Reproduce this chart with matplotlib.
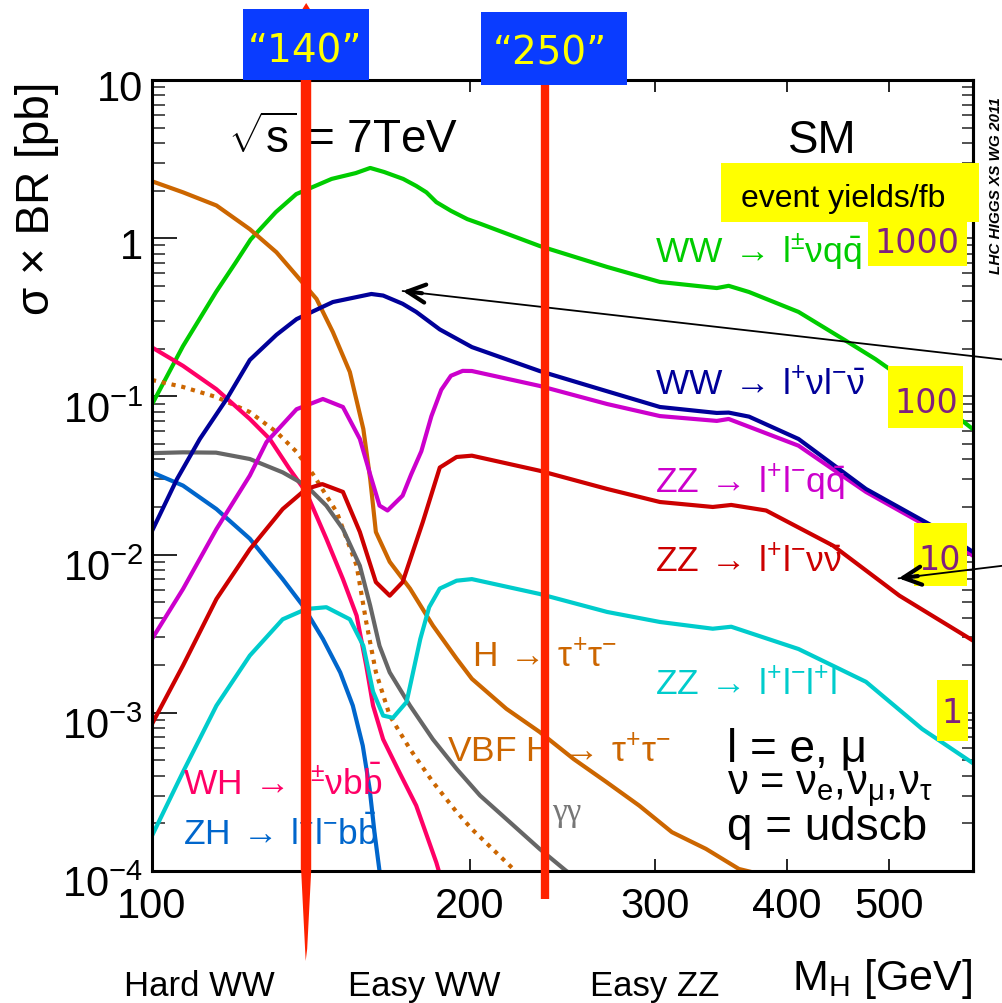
import numpy as np
import matplotlib
matplotlib.use('Agg')
import matplotlib.pyplot as plt
from matplotlib import transforms
from matplotlib.patches import Rectangle, Polygon
from matplotlib.ticker import FixedLocator, FixedFormatter, NullLocator, LogLocator, NullFormatter

plt.rcParams['font.family'] = ['Liberation Sans', 'DejaVu Sans']
plt.rcParams['mathtext.fontset'] = 'custom'
plt.rcParams['mathtext.rm'] = 'Liberation Sans'
plt.rcParams['mathtext.it'] = 'Liberation Sans:italic'
plt.rcParams['mathtext.bf'] = 'Liberation Sans:bold'
plt.rcParams['mathtext.sf'] = 'Liberation Sans'

# ---------------- data (M_H in GeV, sigma x BR in pb) ----------------
ww_lvqq_m = [100, 107, 115, 120, 124, 131, 137, 148, 156, 161, 166, 173, 178, 182, 186, 192, 199, 205,
             233, 270, 303, 343, 352, 368, 410, 455, 485, 500, 550, 600]
ww_lvqq_s = [0.089, 0.208, 0.457, 0.70, 0.98, 1.46, 1.90, 2.37, 2.58, 2.78, 2.62, 2.37, 2.14, 1.95, 1.69,
             1.49, 1.32, 1.23, 0.893, 0.658, 0.529, 0.484, 0.50, 0.457, 0.342, 0.224, 0.172, 0.149,
             0.098, 0.062]

ww_lvlv_m = [100, 105.6, 111, 117.7, 123.8, 131.2, 137.1, 148.4, 161.4, 165.6, 172.8, 178, 187.4,
             201, 233, 266, 303, 343, 352, 368, 410, 475, 549, 600]
ww_lvlv_s = [0.0141, 0.030, 0.0538, 0.0963, 0.170, 0.245, 0.308, 0.395, 0.444, 0.434, 0.385, 0.342,
             0.265, 0.205, 0.1447, 0.111, 0.0857, 0.0786, 0.079, 0.0745, 0.0538, 0.026, 0.0152, 0.0104]

zz_llqq_m = [100, 107, 115.1, 123.8, 128.4, 137.1, 145.2, 151.7, 157.4, 161, 164.3, 167.2, 172.8,
             176, 180, 184, 188, 192, 197, 201, 233, 270, 303, 343, 352, 410, 475, 549, 600]
zz_llqq_s = [0.00293, 0.00606, 0.0145, 0.0316, 0.0515, 0.083, 0.0963, 0.0857, 0.0538, 0.032, 0.0204,
             0.019, 0.0236, 0.032, 0.045, 0.075, 0.11, 0.135, 0.145, 0.1447, 0.1165, 0.0895, 0.0751,
             0.070, 0.072, 0.0488, 0.0249, 0.0145, 0.00984]

zz_llvv_m = [100, 107, 115.1, 123.8, 133, 140, 145, 151.7, 157.4, 163, 168, 172.8, 180.6, 187.4,
             194.4, 201, 233, 270, 303, 340, 354, 382, 442, 511, 600]
zz_llvv_s = [0.00085, 0.00199, 0.00524, 0.0108, 0.0194, 0.026, 0.0279, 0.0249, 0.0139, 0.0067,
             0.0055, 0.0067, 0.0161, 0.0355, 0.0414, 0.0422, 0.0339, 0.026, 0.0215, 0.020, 0.0206,
             0.019, 0.0114, 0.0055, 0.00286]

zz_4l_m = [100, 107, 115.1, 123.8, 133, 140, 146.3, 154, 158.6, 162, 165.6, 169.2, 174.3, 179.6,
           183.1, 187.4, 194.4, 201, 233, 270, 303, 340, 354, 410, 475, 537, 600]
zz_4l_s = [0.000167, 0.000423, 0.00111, 0.0023, 0.0039, 0.00453, 0.00465, 0.0039, 0.00265, 0.00136,
           0.00096, 0.00093, 0.00117, 0.00293, 0.00465, 0.0061, 0.00684, 0.0070, 0.00564, 0.00434,
           0.00375, 0.0034, 0.0035, 0.00253, 0.00157, 0.00079, 0.00048]

htautau_m = [100, 107, 115.1, 123.8, 131.2, 137.1, 143.2, 148.4, 154, 158.6, 161, 163, 168, 175.6,
             184.6, 194.4, 201, 216.7, 233, 251, 269.6, 289.6, 311, 335, 360, 370]
htautau_s = [2.29, 1.95, 1.61, 1.14, 0.815, 0.58, 0.413, 0.255, 0.1426, 0.0622, 0.030, 0.0139, 0.009,
             0.0061, 0.00356, 0.0022, 0.00164, 0.00106, 0.000757, 0.00051, 0.000365, 0.000259,
             0.000176, 0.000138, 0.000103, 0.0000985]

vbf_tautau_m = [100, 107, 115.1, 123.8, 131.2, 137.1, 142.2, 149.7, 156.3, 159.6, 163, 168, 175.6,
                184.6, 194.4, 201, 221, 223]
vbf_tautau_s = [0.127, 0.1147, 0.099, 0.0796, 0.0596, 0.0446, 0.032, 0.0185, 0.0085, 0.00375,
                0.00181, 0.00096, 0.00059, 0.000365, 0.000236, 0.000184, 0.0001, 0.000095]

gamgam_m = [100, 107, 115, 123.8, 133, 140, 146.3, 151.7, 157.4, 161, 164.3, 168, 175.6, 184.6,
            194.4, 204.6, 216.7, 233, 247, 250]
gamgam_s = [0.0438, 0.0443, 0.0441, 0.0402, 0.0331, 0.0273, 0.0204, 0.0145, 0.0085, 0.00475,
            0.00265, 0.0018, 0.00111, 0.00068, 0.000442, 0.0003, 0.000213, 0.000138, 0.0001, 0.000095]

wh_m = [100, 107, 115.1, 123.8, 129.3, 135, 140, 146.3, 151.7, 156.3, 159.6, 162, 165.6, 171.6, 178,
        186, 187]
wh_s = [0.204, 0.156, 0.111, 0.072, 0.0538, 0.0348, 0.0248, 0.0126, 0.007, 0.00411, 0.00199, 0.00111,
        0.00068, 0.00042, 0.000259, 0.000113, 0.0001]

zh_m = [100, 107, 115.1, 123.8, 133, 139, 145.2, 150.8, 155, 158.4, 160.8, 162.5, 164.3, 165]
zh_s = [0.0331, 0.0273, 0.0194, 0.0126, 0.007, 0.00475, 0.00293, 0.0018, 0.00111, 0.00062, 0.00033,
        0.000176, 0.0001, 0.00009]

xticks = [100, 200, 300, 400, 500]
xticklabels = ['100', '200', '300', '400', '500']
yticks = [1e-4, 1e-3, 1e-2, 1e-1, 1, 10]
yticklabels = [r'$\mathregular{10^{-4}}$', r'$\mathregular{10^{-3}}$', r'$\mathregular{10^{-2}}$',
               r'$\mathregular{10^{-1}}$', '1', '10']

mass_marks = [140, 236]
mass_mark_labels = ['\u201c140\u201d', '\u201c250\u201d']
yield_labels = ['1000', '100', '10', '1']
region_labels = ['Hard WW', 'Easy WW', 'Easy ZZ']

# ---------------- figure ----------------
W, H = 1002, 1004
fig = plt.figure(figsize=(W / 100, H / 100), dpi=100)
ax = fig.add_axes([152 / W, 1 - 872 / H, 821 / W, 791 / H])
ax.set_xscale('log')
ax.set_yscale('log')
ax.set_xlim(100, 600)
ax.set_ylim(1e-4, 10)

LW = 3.0
kw = dict(lw=LW, solid_joinstyle='round', solid_capstyle='round')
ax.plot(ww_lvqq_m, ww_lvqq_s, color='#00CC00', zorder=2, **kw)
ax.plot(htautau_m, htautau_s, color='#CC6600', zorder=2, **kw)
ax.plot(vbf_tautau_m, vbf_tautau_s, color='#CC6600', lw=LW, ls=(0, (1, 1.4)), zorder=2)
ax.plot(wh_m, wh_s, color='#FF0066', zorder=2, **kw)
ax.plot(zh_m, zh_s, color='#0066CC', zorder=2, **kw)
ax.plot(gamgam_m, gamgam_s, color='#666666', zorder=2, **kw)
ax.plot(zz_llqq_m, zz_llqq_s, color='#CC00CC', zorder=2.1, **kw)
ax.plot(ww_lvlv_m, ww_lvlv_s, color='#000099', zorder=2.2, **kw)
ax.plot(zz_llvv_m, zz_llvv_s, color='#CC0000', zorder=2, **kw)
ax.plot(zz_4l_m, zz_4l_s, color='#00CCCC', zorder=2, **kw)

# ticks
ax.xaxis.set_major_locator(FixedLocator(xticks))
ax.xaxis.set_major_formatter(FixedFormatter(xticklabels))
ax.xaxis.set_minor_locator(NullLocator())
ax.yaxis.set_major_locator(FixedLocator(yticks))
ax.yaxis.set_major_formatter(FixedFormatter(yticklabels))
ax.yaxis.set_minor_locator(LogLocator(base=10, subs=np.arange(2, 10)))
ax.yaxis.set_minor_formatter(NullFormatter())
ax.tick_params(axis='x', which='major', direction='in', length=8.5, width=1.2, top=True,
               labelsize=30, pad=11)
ax.tick_params(axis='y', which='major', direction='in', length=18, width=1.2, labelsize=30,
               pad=6.5, right=False)
ax.tick_params(axis='y', which='minor', direction='in', length=9.4, width=1.2, color='#333333',
               right=False)
for s in ax.spines.values():
    s.set_linewidth(2.2)

sec = ax.secondary_yaxis('right')
sec.yaxis.set_major_locator(FixedLocator(yticks))
sec.yaxis.set_minor_locator(LogLocator(base=10, subs=np.arange(2, 10)))
sec.yaxis.set_major_formatter(NullFormatter())
sec.yaxis.set_minor_formatter(NullFormatter())
sec.tick_params(which='both', direction='in', length=8, width=1.2, color='#333333')
sec.spines['right'].set_linewidth(2.2)

# shift y tick labels slightly down like the reference
for lab in ax.get_yticklabels():
    dy = -7 if '$' in lab.get_text() else -3
    off = transforms.ScaledTranslation(0, dy / 72, fig.dpi_scale_trans)
    lab.set_transform(lab.get_transform() + off)


def ftext(px, py, s, **kw):
    return ax.text(px / W, 1 - py / H, s, transform=fig.transFigure, clip_on=False, **kw)


def frect(x0, y0, x1, y1, color, z):
    r = Rectangle((x0 / W, 1 - y1 / H), (x1 - x0) / W, (y1 - y0) / H, transform=fig.transFigure,
                  facecolor=color, edgecolor='none', zorder=z, clip_on=False)
    ax.add_patch(r)


# axis labels
fig.text(37 / W, 1 - 198 / H, '\u03c3 \u00d7 BR [pb]', rotation=90, ha='center', va='center',
         fontsize=33)
fig.text(972 / W, 1 - 990 / H, r'$\mathrm{M_H}$ [GeV]', ha='right', va='baseline', fontsize=31)
for cx, lab in zip([199, 424, 655], region_labels):
    fig.text(cx / W, 1 - 996 / H, lab, ha='center', va='baseline', fontsize=25)

# headline texts
ftext(228, 153, r'$\sqrt{\mathrm{s}}$ = 7TeV', fontsize=33, va='baseline', zorder=3)
ftext(788, 153, 'SM', fontsize=33, va='baseline', zorder=3)
ftext(996, 186, 'LHC HIGGS XS WG 2011', rotation=90, ha='center', va='center', fontsize=11,
      fontweight='bold', fontstyle='italic', zorder=3)

# curve labels
FS = 25.5
AR = r'\:\rightarrow\:'
ftext(655, 263, r'$\mathrm{WW}' + AR + r'\mathrm{l^{\pm}\nu q\bar{q}}$', color='#00CC00', fontsize=FS, va='baseline', zorder=3)
ftext(655, 395, r'$\mathrm{WW}' + AR + r'\mathrm{l^{+}\nu l^{-}\bar{\nu}}$', color='#000099', fontsize=FS, va='baseline', zorder=3)
ftext(655, 493, r'$\mathrm{ZZ}' + AR + r'\mathrm{l^{+}l^{-}q\bar{q}}$', color='#CC00CC', fontsize=FS, va='baseline', zorder=3)
ftext(655, 572, r'$\mathrm{ZZ}' + AR + r'\mathrm{l^{+}l^{-}\nu\bar{\nu}}$', color='#CC0000', fontsize=FS, va='baseline', zorder=3)
ftext(655, 695, r'$\mathrm{ZZ}' + AR + r'\mathrm{l^{+}l^{-}l^{+}l}$', color='#00CCCC', fontsize=FS, va='baseline', zorder=3)
ftext(472, 667, r'$\mathrm{H}' + AR + r'\mathrm{\tau^{+}\tau^{-}}$', color='#CC6600', fontsize=FS, va='baseline', zorder=3)
ftext(447, 762, r'$\mathrm{VBF\ H}' + AR + r'\mathrm{\tau^{+}\tau^{-}}$', color='#CC6600', fontsize=FS, va='baseline', zorder=3)
ftext(183, 795, r'$\mathrm{WH}' + AR + r'\mathrm{l^{\pm}\nu b\bar{b}}$', color='#FF0066', fontsize=FS, va='baseline', zorder=3)
ftext(183, 845, r'$\mathrm{ZH}' + AR + r'\mathrm{l^{+}l^{-}b\bar{b}}$', color='#0066CC', fontsize=FS, va='baseline', zorder=3)
ftext(552, 821, '\u03b3\u03b3', family='Liberation Serif', fontsize=24, color='#777777', va='baseline', zorder=3)

# legend of symbols
ftext(727, 762, 'l = e, \u03bc', fontsize=33, va='baseline', zorder=3)
ftext(727, 795, r'$\mathrm{\nu}$ = $\mathrm{\nu_e,\!\nu_\mu,\!\nu_\tau}$', fontsize=30, va='baseline', zorder=3)
ftext(727, 840, 'q = udscb', fontsize=33, va='baseline', zorder=3)

# yellow yield boxes
frect(721, 164, 979, 223, '#FFFF00', 5)
ftext(843, 207, 'event yields/fb', fontsize=23, ha='center', va='baseline', zorder=5.5)
PUR = '#80207F'
for (x0, y0, x1, y1, cx, by), lab in zip([(868, 223, 967, 267, 917, 253),
                                          (888, 367, 963, 429, 926, 413),
                                          (914, 524, 967, 587, 940, 570),
                                          (937, 681, 968, 742, 952, 723)], yield_labels):
    frect(x0, y0, x1, y1, '#FFFF00', 5)
    ftext(cx, by, lab, family='DejaVu Sans', fontsize=24, color=PUR, ha='center', va='baseline',
          zorder=5.5)

# black arrows (tip, tail in data coordinates)
arrows = [((172.8, 0.4636), (640, 0.171), (0.9936, -0.1128)),
          ((510, 0.00708), (640, 0.0085), (0.9933, 0.1157))]
for tip, tail, d in arrows:
    ax.annotate('', xy=tip, xytext=tail,
                arrowprops=dict(arrowstyle='-', lw=1.3, color='black', shrinkA=0, shrinkB=0),
                annotation_clip=False, zorder=6)
    ax.annotate('', xy=tip, xytext=(14 * d[0], 14 * d[1]), textcoords='offset points',
                arrowprops=dict(arrowstyle='->,head_length=1.3,head_width=0.65', lw=3,
                                color='black', shrinkA=0, shrinkB=0),
                annotation_clip=False, zorder=6)

# red mass markers
RED = '#FF2200'
blend = transforms.blended_transform_factory(ax.transData, fig.transFigure)
ax.plot([mass_marks[0]] * 2, [1 - 10 / H, 1 - 872 / H], color=RED, lw=7.5, transform=blend,
        clip_on=False, zorder=7, solid_capstyle='butt')
ax.plot([mass_marks[1]] * 2, [1 - 86 / H, 1 - 900 / H], color=RED, lw=6, transform=blend,
        clip_on=False, zorder=7, solid_capstyle='butt')
xc = fig.transFigure.inverted().transform(ax.transData.transform((mass_marks[0], 1)))[0] * W
taper_bot = Polygon([((xc - 5) / W, 1 - 872 / H), ((xc + 5) / W, 1 - 872 / H),
                     ((xc + 1) / W, 1 - 950 / H), ((xc - 0.5) / W, 1 - 962 / H)],
                    closed=True, transform=fig.transFigure, facecolor=RED, edgecolor='none',
                    zorder=7, clip_on=False)
taper_top = Polygon([((xc - 5) / W, 1 - 12 / H), ((xc + 5) / W, 1 - 12 / H), ((xc) / W, 1 - 4 / H)],
                    closed=True, transform=fig.transFigure, facecolor=RED, edgecolor='none',
                    zorder=7, clip_on=False)
ax.add_patch(taper_bot)
ax.add_patch(taper_top)

# blue label boxes
BLUE = '#0A3CFF'
for (x0, y0, x1, y1, cx, by), lab in zip([(243, 10, 369, 81, 305, 63), (481, 13, 627, 86, 550, 65)],
                                         mass_mark_labels):
    frect(x0, y0, x1, y1, BLUE, 8)
    ftext(cx, by, lab, family='DejaVu Sans', fontsize=28, color='#FFFF00', ha='center',
          va='baseline', zorder=9)

fig.savefig('out.png', dpi=100)
